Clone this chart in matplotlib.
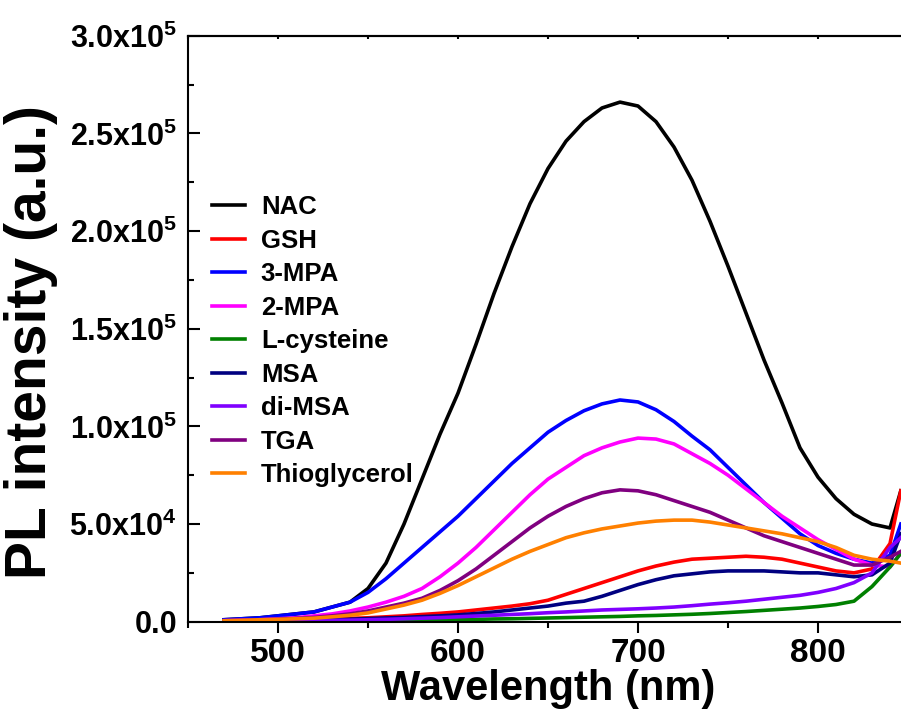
import matplotlib
matplotlib.use('Agg')
import matplotlib.pyplot as plt
from matplotlib.ticker import MultipleLocator, FuncFormatter

# wavelength grid (nm) shared by all spectra
wavelength = [470, 480, 490, 500, 510, 520, 530, 540, 550, 560, 570, 580, 590,
              600, 610, 620, 630, 640, 650, 660, 670, 680, 690, 700, 710, 720,
              730, 740, 750, 760, 770, 780, 790, 800, 810, 820, 830, 840, 846]

# PL intensity in units of 1e4
nac = [0.1, 0.15, 0.2, 0.3, 0.4, 0.5, 0.75, 1.0, 1.7, 3.0, 5.0, 7.3, 9.6,
       11.7, 14.2, 16.8, 19.2, 21.4, 23.2, 24.6, 25.6, 26.3, 26.6, 26.4, 25.6, 24.3,
       22.6, 20.5, 18.2, 15.8, 13.4, 11.2, 8.9, 7.4, 6.3, 5.5, 5.0, 4.8, 6.7]
gsh = [0.02, 0.03, 0.05, 0.07, 0.09, 0.11, 0.14, 0.17, 0.2, 0.25, 0.3, 0.37, 0.43,
       0.5, 0.6, 0.7, 0.8, 0.92, 1.1, 1.4, 1.7, 2.0, 2.3, 2.6, 2.85, 3.05,
       3.2, 3.25, 3.3, 3.35, 3.3, 3.2, 3.0, 2.8, 2.6, 2.5, 2.7, 4.0, 6.7]
mpa3 = [0.1, 0.15, 0.2, 0.3, 0.4, 0.5, 0.75, 1.0, 1.5, 2.2, 3.0, 3.8, 4.6,
        5.4, 6.3, 7.2, 8.1, 8.9, 9.7, 10.3, 10.8, 11.15, 11.35, 11.25, 10.85, 10.25,
        9.5, 8.8, 7.9, 7.0, 6.1, 5.3, 4.5, 3.9, 3.5, 3.2, 3.0, 3.4, 5.0]
mpa2 = [0.05, 0.08, 0.1, 0.15, 0.2, 0.3, 0.4, 0.55, 0.75, 1.0, 1.3, 1.7, 2.3,
        3.0, 3.8, 4.7, 5.6, 6.5, 7.3, 7.9, 8.5, 8.9, 9.2, 9.4, 9.35, 9.1,
        8.6, 8.1, 7.5, 6.8, 6.1, 5.4, 4.8, 4.2, 3.7, 3.2, 2.9, 2.8, 3.5]
cys = [0.0, 0.0, 0.0, 0.02, 0.03, 0.04, 0.05, 0.05, 0.06, 0.07, 0.08, 0.09, 0.1,
       0.11, 0.12, 0.14, 0.15, 0.17, 0.19, 0.21, 0.23, 0.25, 0.27, 0.3, 0.32, 0.35,
       0.38, 0.42, 0.47, 0.52, 0.58, 0.64, 0.7, 0.78, 0.88, 1.05, 1.8, 2.8, 3.5]
msa = [0.02, 0.03, 0.04, 0.05, 0.07, 0.09, 0.11, 0.13, 0.16, 0.19, 0.22, 0.26, 0.3,
       0.35, 0.42, 0.5, 0.6, 0.7, 0.8, 0.95, 1.05, 1.3, 1.6, 1.9, 2.15, 2.35,
       2.45, 2.55, 2.6, 2.6, 2.6, 2.55, 2.5, 2.5, 2.4, 2.3, 2.4, 3.0, 4.5]
dimsa = [0.0, 0.0, 0.02, 0.04, 0.05, 0.06, 0.07, 0.08, 0.1, 0.12, 0.15, 0.18, 0.21,
         0.25, 0.29, 0.33, 0.37, 0.41, 0.46, 0.5, 0.55, 0.6, 0.63, 0.66, 0.7, 0.75,
         0.82, 0.9, 0.97, 1.05, 1.15, 1.25, 1.35, 1.5, 1.7, 2.0, 2.5, 3.8, 4.3]
tga = [0.05, 0.07, 0.1, 0.13, 0.17, 0.22, 0.3, 0.4, 0.55, 0.75, 0.95, 1.2, 1.6,
       2.1, 2.7, 3.4, 4.1, 4.8, 5.4, 5.9, 6.3, 6.6, 6.75, 6.7, 6.5, 6.2,
       5.9, 5.6, 5.2, 4.8, 4.4, 4.1, 3.8, 3.5, 3.2, 2.9, 2.9, 3.3, 3.6]
thio = [0.05, 0.07, 0.1, 0.12, 0.15, 0.18, 0.25, 0.33, 0.45, 0.65, 0.85, 1.1, 1.45,
        1.85, 2.3, 2.75, 3.2, 3.6, 3.95, 4.3, 4.55, 4.75, 4.9, 5.05, 5.15, 5.2,
        5.2, 5.1, 4.95, 4.8, 4.65, 4.5, 4.3, 4.1, 3.8, 3.4, 3.2, 3.1, 3.0]

labels = ['NAC', 'GSH', '3-MPA', '2-MPA', 'L-cysteine', 'MSA', 'di-MSA', 'TGA', 'Thioglycerol']
series = [nac, gsh, mpa3, mpa2, cys, msa, dimsa, tga, thio]
colors = ['#000000', '#FF0000', '#0000FF', '#FF00FF', '#008000',
          '#000080', '#8000FF', '#800080', '#FF8000']

plt.rcParams['font.family'] = ['Liberation Sans']
plt.rcParams['font.weight'] = 'bold'
plt.rcParams['mathtext.fontset'] = 'custom'
plt.rcParams['mathtext.rm'] = 'Liberation Sans:bold'
plt.rcParams['mathtext.it'] = 'Liberation Sans:bold'
plt.rcParams['mathtext.bf'] = 'Liberation Sans:bold'

fig = plt.figure(figsize=(9.01, 7.2), dpi=100)
ax = fig.add_axes([188 / 901, 98.3 / 720, 720 / 901, 586 / 720])

for vals, lab, col in zip(series, labels, colors):
    ax.plot(wavelength, [v * 1e4 for v in vals], color=col, lw=2.6, label=lab)

ax.set_xlim(450, 850)
ax.set_ylim(0, 3.0e5)
ax.xaxis.set_major_locator(MultipleLocator(100))
ax.xaxis.set_minor_locator(MultipleLocator(50))
ax.yaxis.set_major_locator(MultipleLocator(5e4))
ax.yaxis.set_minor_locator(MultipleLocator(2.5e4))


def sci_fmt(v, pos):
    if v == 0:
        return '0.0'
    exp = 5 if v >= 1e5 else 4
    return '%.1fx10$^{%d}$' % (v / 10 ** exp, exp)


ax.yaxis.set_major_formatter(FuncFormatter(sci_fmt))

for s in ax.spines.values():
    s.set_linewidth(1.5)
ax.tick_params(axis='y', which='major', direction='in', length=8.6, width=1.5,
               labelsize=22, pad=8)
ax.tick_params(axis='y', which='minor', direction='in', length=4.3, width=1.5)
ax.tick_params(axis='x', which='major', direction='out', length=8, width=1.5,
               labelsize=24, pad=4)
ax.tick_params(axis='x', which='minor', direction='out', length=4, width=1.5)

# small inward ticks on the top spine
top = ax.secondary_xaxis('top')
top.xaxis.set_major_locator(MultipleLocator(50))
top.tick_params(direction='in', length=2.5, width=1.5, labeltop=False)
top.spines['top'].set_linewidth(1.5)

ax.set_xlabel('Wavelength (nm)', fontsize=30, fontweight='bold', labelpad=0)
ax.set_ylabel('PL intensity (a.u.)', fontsize=41, fontweight='bold')
ax.yaxis.set_label_coords(-(188 - 58) / 720, 0.477)

ax.legend(loc='upper left', bbox_to_anchor=(212 / 901, 1 - 195 / 720),
          bbox_transform=fig.transFigure, frameon=False, fontsize=18.5,
          handlelength=1.3, handletextpad=0.6, labelspacing=0.37,
          borderpad=0, borderaxespad=0)

fig.savefig('out.png', dpi=100, facecolor='white')
